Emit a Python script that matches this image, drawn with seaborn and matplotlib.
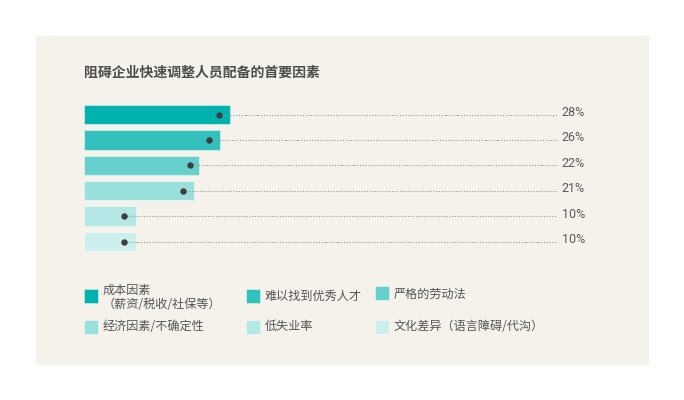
import numpy as np
import pandas as pd
import matplotlib
matplotlib.use('Agg')
import matplotlib.pyplot as plt
from matplotlib.patches import Rectangle
import seaborn as sns

sns.set_theme(style='white')
plt.rcParams['font.family'] = ['Noto Sans CJK SC', 'DejaVu Sans']

# data
title = '阻碍企业快速调整人员配备的首要因素'
factors = ['成本因素\n（薪资/税收/社保等）', '难以找到优秀人才', '严格的劳动法',
           '经济因素/不确定性', '低失业率', '文化差异（语言障碍/代沟）']
values = [28, 26, 22, 21, 10, 10]
markers = [25.8, 24.0, 20.3, 19.0, 7.7, 7.7]
colors = ['#00b2ae', '#33c1be', '#66d0cd', '#99e0dd', '#b3e8e6', '#ccefed']

df = pd.DataFrame({'factor': factors, 'value': values, 'marker': markers})

W, H = 684, 400
fig = plt.figure(figsize=(W / 100, H / 100), dpi=100)
fig.patch.set_facecolor('white')

# beige panel
fig.add_artist(Rectangle((36 / W, 1 - 364 / H), 612 / W, 328 / H,
                         transform=fig.transFigure, color='#f5f2ec', zorder=0))

fig.text(84 / W, 1 - 73 / H, title, fontsize=10, weight='bold',
         color='#4d4d4d', va='center')

ax = fig.add_axes([83.8 / W, 1 - 254.2 / H, 522.5 / W, (254.2 - 101.8) / H])
ax.patch.set_alpha(0)
sns.barplot(data=df, x='value', y='factor', hue='factor', palette=colors,
            legend=False, width=0.76, ax=ax, edgecolor=(1, 1, 1, 0.45),
            linewidth=0.8, saturation=1)

ypos = np.arange(len(df))
ax.hlines(ypos, df['marker'], 90.6, colors='#9a9a9a', linewidth=0.8,
          linestyles=(0, (1, 1.5)), zorder=3)
ax.plot(df['marker'], ypos, 'o', color='#3d3d3d', markersize=3.6, zorder=4)
for y, v in zip(ypos, df['value']):
    ax.text(91.5, y - 0.08, f'{v}%', va='center', ha='left', fontsize=9,
            color='#5a5a5a', family=['Roboto', 'DejaVu Sans'])

ax.set_xlim(0, 100)
ax.set_ylim(len(df) - 0.5, -0.5)
ax.axis('off')

# legend, row-major in three columns
leg_x = [84, 246, 375]
leg_sq_top = [[288.5, 289, 286], [319.5, 319.5, 319.5]]
leg_txt_y = [[297, 296, 294], [326, 326, 326]]
for i, (lab, col) in enumerate(zip(factors, colors)):
    r, c = divmod(i, 3)
    x = leg_x[c]
    fig.add_artist(Rectangle((x / W, 1 - (leg_sq_top[r][c] + 14) / H), 14 / W, 14 / H,
                             transform=fig.transFigure, facecolor=col,
                             edgecolor=(1, 1, 1, 0.5), linewidth=0.6))
    fig.text((x + 19) / W, 1 - leg_txt_y[r][c] / H, lab, fontsize=8.7,
             color='#555555', va='center', ha='left', linespacing=1.1)

fig.savefig('out.png', dpi=100)
